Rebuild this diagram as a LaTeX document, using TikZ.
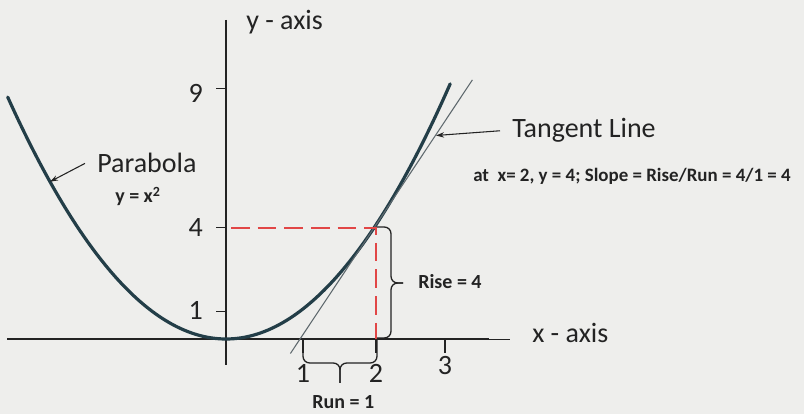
\documentclass[tikz,border=0pt]{standalone}
\usepackage{fontspec}
\setmainfont{Carlito}
\usetikzlibrary{arrows.meta}
\definecolor{paper}{RGB}{238,238,236}
\definecolor{ink}{RGB}{35,35,35}
\definecolor{curve}{RGB}{35,62,72}
\definecolor{tang}{RGB}{95,105,110}
\definecolor{dashred}{RGB}{225,70,70}
\begin{document}
\begin{tikzpicture}[x=0.75pt,y=0.75pt,
  big/.style={font=\fontsize{21}{25}\selectfont, text=ink, inner sep=0pt},
  boldlbl/.style={font=\fontsize{15}{18}\selectfont\bfseries, text=ink, inner sep=0pt},
  axisline/.style={draw=ink, line width=1.6pt},
  tickline/.style={draw=ink, line width=0.8pt},
  pointer/.style={draw=ink, line width=0.8pt, -{Stealth[length=6pt,width=4pt]}},
  bracepath/.style={draw=ink, line width=1pt, rounded corners=5pt},
  guide/.style={draw=dashred, line width=1.5pt, dash pattern=on 14pt off 6pt}]
\fill[paper] (0,0) rectangle (804,414);
\useasboundingbox (0,0) rectangle (804,414);

% axes
\coordinate (O) at (226,75);
\coordinate (xl) at (7,75);
\coordinate (xm) at (489,75);
\coordinate (xr) at (510,75);
\coordinate (yt) at (226,394);
\coordinate (yb) at (226,49);
\draw[axisline] (xl) -- (xm);
\draw[ink, line width=0.7pt] (xm) -- (xr);
\draw[axisline] (yt) -- (yb);

% y ticks and labels
\foreach \v/\yy/\by in {9/325.2/311, 4/186.2/177, 1/102.8/94}{
  \draw[tickline] (216,\yy) -- (226,\yy);
  \node[big, anchor=base east] (ylab\v) at (203,\by) {\v};
}
% x ticks and labels
\foreach \v/\xx/\by in {1/303/31, 2/376/31, 3/445/39}{
  \draw[tickline] (\xx,75) -- (\xx,61);
  \node[big, anchor=base] (xlab\v) at (\xx,\by) {\v};
}

% parabola
\begin{scope}
\clip (0,0) rectangle (804,414);
\draw[curve, line width=2.4pt, line cap=round] plot[domain=-2.95:3.03, samples=120, smooth] ({226+74*\x},{75+27.8*\x*\x});
\end{scope}

% tangent line
\coordinate (t0) at (290.4,60.5);
\coordinate (t1) at (472.4,334.1);
\draw[tang, line width=0.8pt] (t0) -- (t1);

% red dashed guides
\coordinate (T) at (376,186.2);
\coordinate (g0) at (231,186.2);
\coordinate (g1) at (376,75);
\draw[guide] (g0) -- (T) -- (g1);

% braces
\draw[bracepath] (303,75) -- (303,51) -- (340,51) -- (340,31);
\draw[bracepath] (377,75) -- (377,51) -- (340,51) -- (340,31);
\draw[bracepath] (377,187) -- (391,187) -- (391,131) -- (403,131);
\draw[bracepath] (377,76) -- (391,76) -- (391,131) -- (403,131);

% texts
\node[big, anchor=base west] (yax) at (246,384) {y - axis};
\node[big, anchor=base west] (xax) at (532,71) {x - axis};
\node[big, anchor=base west] (par) at (97,241) {Parabola};
\node[boldlbl, anchor=base west] (eq) at (115,211) {y = x\textsuperscript{2}};
\node[big, anchor=base west] (tan) at (512,276) {Tangent Line};
\node[boldlbl, anchor=base west, font=\fontsize{14.2}{17}\selectfont\bfseries] (slope) at (473,232) {at\ \ x= 2, y = 4; Slope = Rise/Run = 4/1 = 4};
\node[boldlbl, anchor=base west] (rise) at (418,125) {Rise = 4};
\node[boldlbl, anchor=base west] (run) at (312,5) {Run = 1};

% pointers
\coordinate (pa) at (50,232.3);
\coordinate (ta) at (436,278.5);
\draw[pointer] ([xshift=-9pt]par.west) -- (pa);
\draw[pointer] ([xshift=-9pt]tan.west) -- (ta);
\end{tikzpicture}
\end{document}
